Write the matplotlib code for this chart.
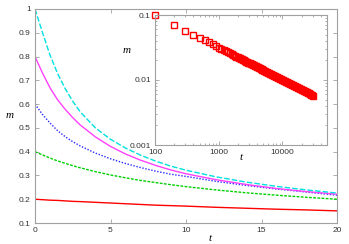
import numpy as np
import matplotlib.pyplot as plt
from matplotlib.ticker import FixedLocator, LogLocator, NullFormatter

# main panel: m(t) for five starting values
t = [0, 0.5, 1, 1.5, 2, 2.5, 3, 4, 5, 6, 7, 8, 9, 10, 12, 14, 16, 18, 20]
m_cyan = [1.0, 0.90, 0.805, 0.728, 0.665, 0.612, 0.567, 0.50, 0.452, 0.415,
          0.385, 0.36, 0.339, 0.322, 0.294, 0.272, 0.254, 0.239, 0.226]
m_magenta = [0.8, 0.73, 0.668, 0.618, 0.578, 0.543, 0.512, 0.462, 0.422, 0.39,
             0.364, 0.342, 0.323, 0.307, 0.282, 0.262, 0.245, 0.232, 0.221]
m_blue = [0.6, 0.556, 0.52, 0.488, 0.463, 0.442, 0.424, 0.394, 0.37, 0.35,
          0.333, 0.318, 0.305, 0.296, 0.275, 0.258, 0.243, 0.23, 0.217]
m_green = [0.4, 0.386, 0.373, 0.361, 0.351, 0.341, 0.332, 0.316, 0.302, 0.29,
           0.279, 0.27, 0.261, 0.253, 0.239, 0.227, 0.217, 0.208, 0.2]
m_red = [0.2, 0.198, 0.196, 0.195, 0.193, 0.191, 0.19, 0.187, 0.184, 0.181,
         0.178, 0.175, 0.173, 0.171, 0.166, 0.162, 0.158, 0.155, 0.151]

# inset: long-time decay on log-log axes
t_long = [100, 200, 300, 400, 500, 600, 700, 800, 900, 1000, 1100, 1200, 1300,
          1400, 1500, 1600, 1700, 1800, 1900, 2000, 2075, 2150, 2225, 2300,
          2400, 2500, 2600, 2700, 2800, 2900, 3000, 3100, 3200, 3300, 3425,
          3550, 3675, 3800, 3950, 4100, 4250, 4400, 4550, 4700, 4850, 5000,
          5200, 5400, 5600, 5800, 6000, 6200, 6450, 6700, 6950, 7200, 7450,
          7700, 8000, 8300, 8600, 8900, 9200, 9500, 9850, 10200, 10600, 11000,
          11400, 11800, 12250, 12700, 13150, 13600, 14100, 14600, 15150, 15700,
          16300, 16900, 17500, 18100, 18800, 19500, 20250, 21000, 21750, 22500,
          23350, 24200, 25100, 26000, 27000, 28000, 29000, 30000]
m_long = [0.1, 0.0707, 0.0577, 0.05, 0.0447, 0.0408, 0.0378, 0.0354, 0.0333,
          0.0316, 0.0302, 0.0289, 0.0277, 0.0267, 0.0258, 0.025, 0.0243,
          0.0236, 0.0229, 0.0224, 0.02195, 0.02157, 0.0212, 0.02085, 0.02041,
          0.02, 0.01961, 0.01925, 0.0189, 0.01857, 0.01826, 0.01796, 0.01768,
          0.01741, 0.01709, 0.01678, 0.0165, 0.01622, 0.01591, 0.01562,
          0.01534, 0.01508, 0.01483, 0.01459, 0.01436, 0.01414, 0.01387,
          0.01361, 0.01336, 0.01313, 0.01291, 0.0127, 0.01245, 0.01222,
          0.012, 0.01179, 0.01159, 0.0114, 0.01118, 0.01098, 0.01078, 0.0106,
          0.01043, 0.01026, 0.01008, 0.0099, 0.00971, 0.00953, 0.00937,
          0.00921, 0.00904, 0.00887, 0.00872, 0.00857, 0.00842, 0.00828,
          0.00812, 0.00798, 0.00783, 0.00769, 0.00756, 0.00743, 0.00729,
          0.00716, 0.00703, 0.0069, 0.00678, 0.00667, 0.00654, 0.00643,
          0.00631, 0.0062, 0.00609, 0.00598, 0.00587, 0.00577]

frame = "#a0a0a0"
tickfont = {"family": "Liberation Sans", "size": 6, "color": "#333333"}
labfont = {"family": "Liberation Serif", "style": "italic", "size": 8}

fig = plt.figure(figsize=(3.49, 2.44), dpi=100)
ax = fig.add_axes([35 / 349, 1 - 223 / 244, 302 / 349, 214 / 244])

ax.plot(t, m_red, color="#ff0000", lw=1.0)
ax.plot(t, m_green, color="#00d000", lw=1.0, dashes=(2, 1))
ax.plot(t, m_blue, color="#2828ff", lw=1.0, dashes=(1, 1.2))
ax.plot(t, m_magenta, color="#ff40ff", lw=1.0)
ax.plot(t, m_cyan, color="#00e0e0", lw=1.0, dashes=(4, 1.5))

ax.set_xlim(0, 20)
ax.set_ylim(0.1, 1.0)
ax.xaxis.set_major_locator(FixedLocator([0, 5, 10, 15, 20]))
ax.yaxis.set_major_locator(FixedLocator(np.arange(1, 11) / 10))
ax.set_xticklabels(["0", "5", "10", "15", "20"], fontdict=tickfont)
ax.set_yticklabels(["0.1", "0.2", "0.3", "0.4", "0.5", "0.6", "0.7", "0.8", "0.9", "1"],
                   fontdict=tickfont)
ax.tick_params(direction="in", top=True, right=True, length=3, width=0.6,
               color=frame, pad=3)
for s in ax.spines.values():
    s.set_color(frame)
    s.set_linewidth(0.8)
ax.set_xlabel("t", fontdict=labfont)
ax.xaxis.set_label_coords(175 / 302, -0.05)
ax.set_ylabel("m", fontdict=labfont, rotation=0)
ax.yaxis.set_label_coords(-25 / 302, 0.48)

# inset
ins = fig.add_axes([155 / 349, 1 - 145 / 244, 172 / 349, 130 / 244])
ins.loglog(t_long, m_long, ls="none", marker="s", ms=3.8, mfc="none",
           mec="#ff0000", mew=1.0, clip_on=False)
ins.set_xlim(100, 50000)
ins.set_ylim(0.001, 0.1)
ins.xaxis.set_major_locator(FixedLocator([100, 1000, 10000]))
ins.yaxis.set_major_locator(FixedLocator([0.001, 0.01, 0.1]))
ins.xaxis.set_minor_locator(LogLocator(base=10, subs=np.arange(2, 10)))
ins.yaxis.set_minor_locator(LogLocator(base=10, subs=np.arange(2, 10)))
ins.xaxis.set_minor_formatter(NullFormatter())
ins.yaxis.set_minor_formatter(NullFormatter())
ins.set_xticklabels(["100", "1000", "10000"], fontdict=tickfont)
ins.set_yticklabels(["0.001", "0.01", "0.1"], fontdict=tickfont)
ins.tick_params(which="both", direction="in", top=True, right=True,
                color=frame, width=0.6, pad=3)
ins.tick_params(which="major", length=3)
ins.tick_params(which="minor", length=1.5)
for s in ins.spines.values():
    s.set_color(frame)
    s.set_linewidth(0.8)
ins.set_xlabel("t", fontdict=labfont)
ins.xaxis.set_label_coords(86 / 172, -0.06)
ins.set_ylabel("m", fontdict=labfont, rotation=0)
ins.yaxis.set_label_coords(-28 / 172, 0.69)

fig.savefig("out.png", dpi=100)
